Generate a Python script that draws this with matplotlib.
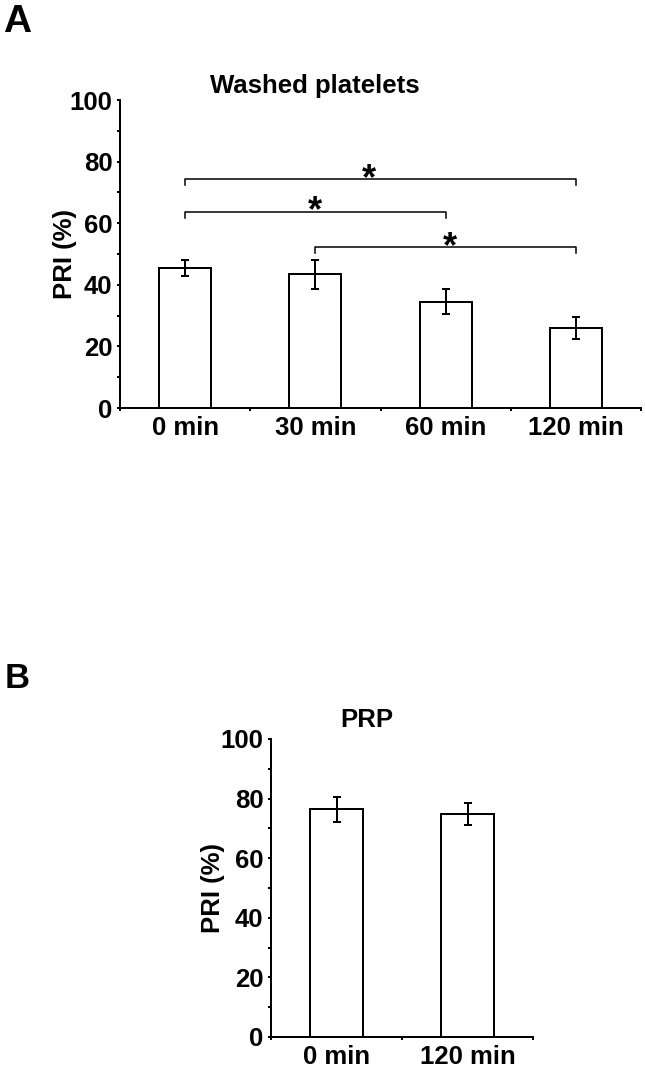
import matplotlib
matplotlib.use("Agg")
import matplotlib.pyplot as plt
import matplotlib.transforms as mtransforms
import numpy as np

plt.rcParams["font.family"] = ["Liberation Sans", "DejaVu Sans"]
plt.rcParams["font.weight"] = "bold"

# panel A: washed platelets
CATS_A = ["0 min", "30 min", "60 min", "120 min"]
PRI_A = [45.4, 43.4, 34.5, 25.9]
ERR_A = [2.7, 4.7, 4.0, 3.5]
SIG_PAIRS = [(0, 3), (0, 2), (1, 3)]
SIG_Y = [74.3, 63.7, 52.2]
STAR_X = [1.41, 1.0, 2.03]
STAR_Y = [77.9, 67.5, 55.8]

# panel B: PRP
CATS_B = ["0 min", "120 min"]
PRI_B = [76.4, 74.9]
ERR_B = [4.2, 3.6]

W, H = 645, 1070
LW = 1.44
FS = 18.5


def style_axes(ax, cats, ylabel_x, xpad):
    n = len(cats)
    ax.set_xlim(-0.5, n - 0.5)
    ax.set_ylim(0, 100)
    for sp in ("top", "right"):
        ax.spines[sp].set_visible(False)
    for sp in ("left", "bottom"):
        ax.spines[sp].set_linewidth(LW)
    ax.set_yticks(np.arange(0, 101, 20))
    ax.set_yticks(np.arange(10, 100, 20), minor=True)
    ax.set_xticks(np.arange(n))
    ax.set_xticklabels(cats)
    ax.set_xticks(np.arange(n + 1) - 0.5, minor=True)
    ax.tick_params(axis="y", which="both", direction="out", length=2.5,
                   width=LW, labelsize=FS, pad=3)
    ax.tick_params(axis="x", which="major", length=0, labelsize=FS, pad=xpad)
    ax.tick_params(axis="x", which="minor", direction="out", length=2.5,
                   width=LW)
    for lab in ax.get_xticklabels() + ax.get_yticklabels():
        lab.set_fontweight("bold")
    ax.set_ylabel("PRI (%)", fontsize=FS, fontweight="bold")
    ax.yaxis.set_label_coords(ylabel_x, 0.5)


def bars(ax, vals, errs):
    x = np.arange(len(vals))
    ax.bar(x, vals, width=0.4, color="white", edgecolor="black",
           linewidth=LW, zorder=2)
    ax.errorbar(x, vals, yerr=errs, fmt="none", ecolor="black",
                elinewidth=LW, capsize=2.6, capthick=LW, zorder=3)


fig = plt.figure(figsize=(W / 100, H / 100), dpi=100)

# panel A
axA = fig.add_axes([120 / W, 1 - 408 / H, 521 / W, 308 / H])
bars(axA, PRI_A, ERR_A)
style_axes(axA, CATS_A, -0.083, 6)
for (a, b), y in zip(SIG_PAIRS, SIG_Y):
    axA.plot([a, a, b, b], [y - 2.0, y, y, y - 2.0], color="black",
             linewidth=1.1, zorder=3)
star_tr = mtransforms.offset_copy(axA.transData, fig=fig, y=-15,
                                  units="points")
for sx, sy in zip(STAR_X, STAR_Y):
    axA.text(sx, sy, "*", transform=star_tr, ha="center", va="baseline",
             fontsize=26, fontweight="bold")
fig.text(314.5 / W, 1 - 93 / H, "Washed platelets", ha="center",
         va="baseline", fontsize=FS, fontweight="bold")
fig.text(3 / W, 1 - 32 / H, "A", ha="left", va="baseline", fontsize=28,
         fontweight="bold")

# panel B
axB = fig.add_axes([271 / W, 1 - 1037 / H, 262 / W, 298 / H])
bars(axB, PRI_B, ERR_B)
style_axes(axB, CATS_B, -0.176, 5.5)
fig.text(367 / W, 1 - 727 / H, "PRP", ha="center", va="baseline",
         fontsize=FS, fontweight="bold")
fig.text(5 / W, 1 - 688 / H, "B", ha="left", va="baseline", fontsize=25,
         fontweight="bold")

fig.savefig("out.png", dpi=100)
